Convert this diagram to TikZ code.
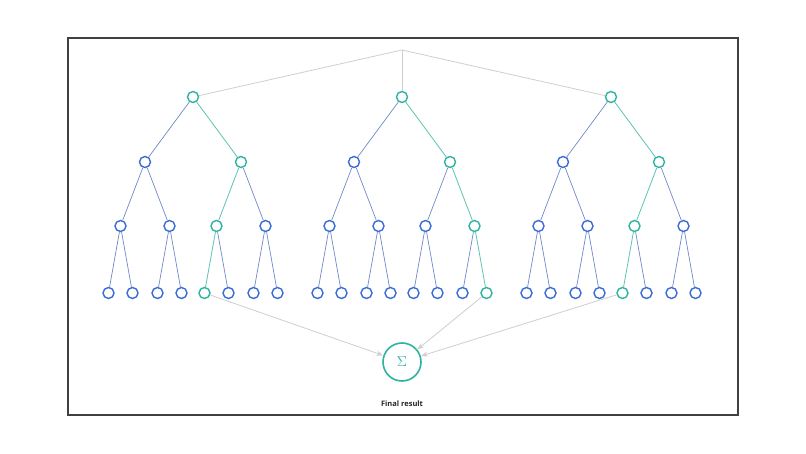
\documentclass[tikz,border=0pt]{standalone}
\usepackage{fontspec}
\setmainfont{Open Sans}
\usetikzlibrary{arrows.meta}
\definecolor{nblue}{HTML}{3B6BD6}
\definecolor{eblue}{HTML}{6F88C8}
\definecolor{nteal}{HTML}{2DB3A0}
\definecolor{eteal}{HTML}{5CC4B0}
\definecolor{lgray}{HTML}{CFCFCF}
\tikzset{
  bn/.style={circle,draw=nblue,line width=1.4pt,fill=white,minimum size=11pt,inner sep=0pt},
  tn/.style={bn,draw=nteal},
  be/.style={draw=eblue,line width=0.7pt},
  te/.style={draw=eteal,line width=0.8pt},
  ge/.style={draw=lgray,line width=0.8pt},
  ga/.style={ge,-{Stealth[length=7pt,width=5pt]}},
}
\begin{document}
\begin{tikzpicture}[x=1pt,y=-1pt]
\useasboundingbox (0,0) rectangle (806,454);
\fill[white] (0,0) rectangle (806,454);
\draw[line width=1.2pt,draw=black!75] (68,38) rectangle (738,415);
\coordinate (apex) at (402,50);
\foreach \t/\R/\a/\b/\c in {1/193/2/1/1,2/402/2/2/2,3/611/2/1/1}{
  \node[tn] (r\t) at (\R,97) {};
  \draw[ge] (apex) -- (r\t);
  \foreach \i in {1,2}{
    \pgfmathsetmacro\xi{\R+(2*\i-3)*48}
    \pgfmathtruncatemacro\fla{(\i==\a)}
    \ifnum\fla=1 \node[tn] (n\t\i) at (\xi,162) {}; \draw[te] (r\t) -- (n\t\i);
    \else \node[bn] (n\t\i) at (\xi,162) {}; \draw[be] (r\t) -- (n\t\i); \fi
    \foreach \j in {1,2}{
      \pgfmathsetmacro\xj{\xi+(2*\j-3)*24.5}
      \pgfmathtruncatemacro\flb{(\i==\a)&&(\j==\b)}
      \ifnum\flb=1 \node[tn] (n\t\i\j) at (\xj,226) {}; \draw[te] (n\t\i) -- (n\t\i\j);
      \else \node[bn] (n\t\i\j) at (\xj,226) {}; \draw[be] (n\t\i) -- (n\t\i\j); \fi
      \foreach \k in {1,2}{
        \pgfmathsetmacro\xk{\xj+(2*\k-3)*12}
        \pgfmathtruncatemacro\flc{(\i==\a)&&(\j==\b)&&(\k==\c)}
        \ifnum\flc=1 \node[tn] (n\t\i\j\k) at (\xk,293) {}; \draw[te] (n\t\i\j) -- (n\t\i\j\k);
        \else \node[bn] (n\t\i\j\k) at (\xk,293) {}; \draw[be] (n\t\i\j) -- (n\t\i\j\k); \fi
      }
    }
  }
}
\node[circle,draw=nteal,line width=1.6pt,minimum size=38pt,inner sep=0pt,text=nteal,font=\Large] (sum) at (402,362) {$\Sigma$};
\node[font=\bfseries\fontsize{7.5}{9}\selectfont,text=black!85] (lbl) at (402,404) {Final result};
\draw[ga] (n1211) -- (sum);
\draw[ga] (n2222) -- (sum);
\draw[ga] (n3211) -- (sum);
\end{tikzpicture}
\end{document}
